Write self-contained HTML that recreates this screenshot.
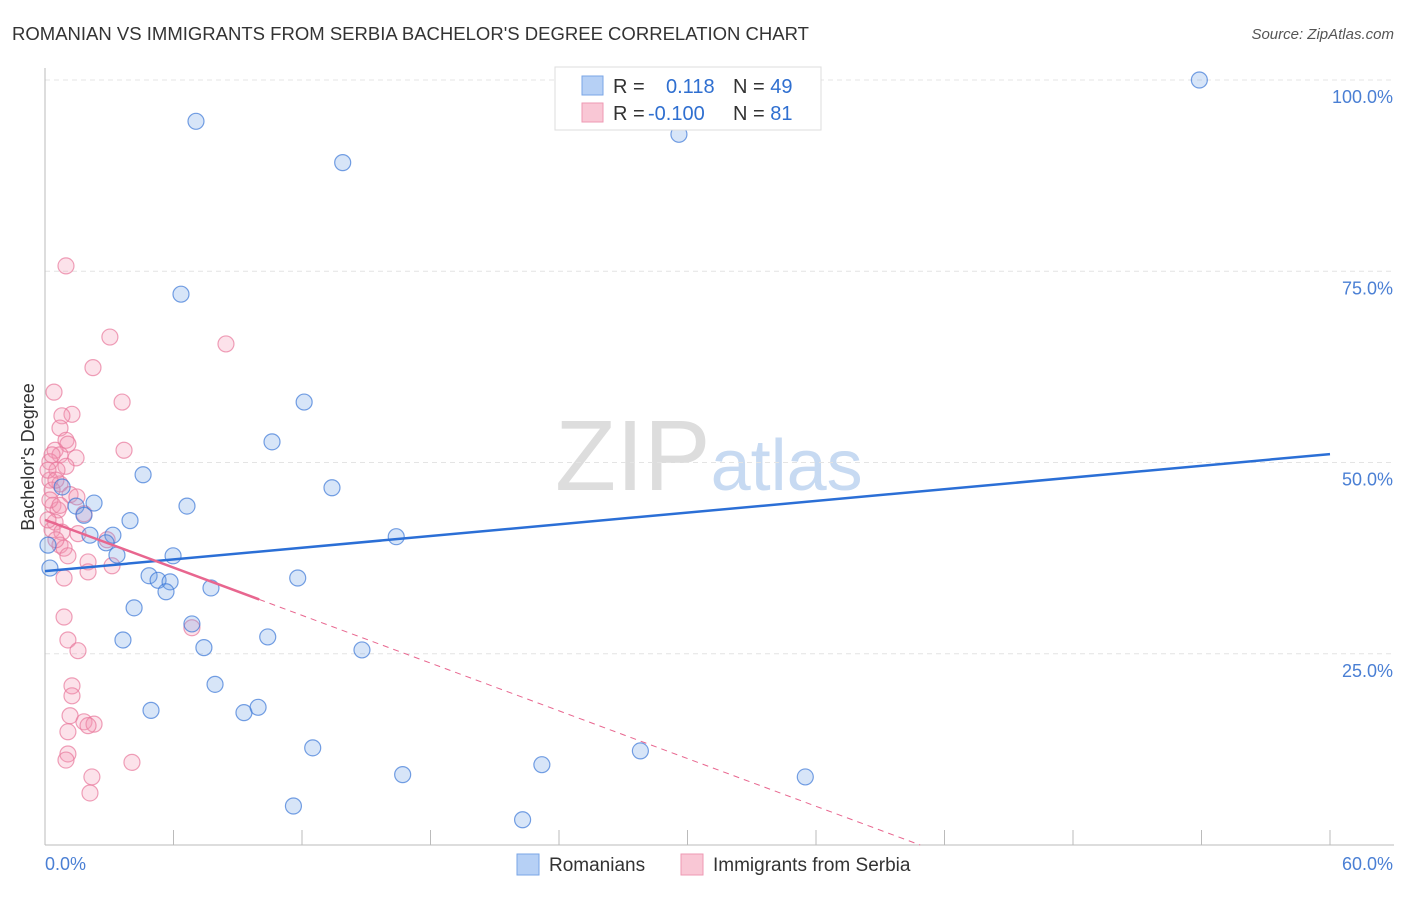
<!DOCTYPE html>
<html><head><meta charset="utf-8"><style>
body{margin:0;background:#fff;font-family:"Liberation Sans",sans-serif}
svg text{font-family:"Liberation Sans",sans-serif}
</style></head><body>
<svg id="chart" width="1406" height="892" xmlns="http://www.w3.org/2000/svg">
<text x="12" y="40" font-size="18" fill="#333" textLength="797" lengthAdjust="spacingAndGlyphs">ROMANIAN VS IMMIGRANTS FROM SERBIA BACHELOR'S DEGREE CORRELATION CHART</text>
<text x="1394" y="39" font-size="15" fill="#555" text-anchor="end" font-style="italic">Source: ZipAtlas.com</text>
<text x="555" y="490" font-size="100" fill="#ddd" font-family="Liberation Serif">ZIP<tspan fill="#c7daf2" font-family="Liberation Sans" font-size="72">atlas</tspan></text>
<g id="grid"></g><g id="marks"></g><g id="lines"></g>
<text transform="translate(34,457) rotate(-90)" font-size="18" fill="#333" text-anchor="middle">Bachelor's Degree</text>
<g>
<rect x="555" y="67" width="266" height="63" fill="#fff" stroke="#ddd"/>
<rect x="582" y="76" width="21" height="19" fill="#b6d0f5" stroke="#7aa6e6"/>
<rect x="582" y="103" width="21" height="19" fill="#f9c7d5" stroke="#ee99b3"/>
<text x="613" y="93" font-size="20" fill="#333">R = <tspan fill="#2f6fd0" x="666">0.118</tspan><tspan x="733" fill="#333">N = </tspan><tspan fill="#2f6fd0">49</tspan></text>
<text x="613" y="120" font-size="20" fill="#333">R = <tspan fill="#2f6fd0" x="648">-0.100</tspan><tspan x="733" fill="#333">N = </tspan><tspan fill="#2f6fd0"> 81</tspan></text>
</g>
<g>
<rect x="517" y="854" width="22" height="21" fill="#b6d0f5" stroke="#7aa6e6"/>
<text x="549" y="871" font-size="19" fill="#333">Romanians</text>
<rect x="681" y="854" width="22" height="21" fill="#f9c7d5" stroke="#ee99b3"/>
<text x="713" y="871" font-size="19" fill="#333">Immigrants from Serbia</text>
</g>
</svg>
<script>
const blueX=[53.9,7.05,13.9,29.6,6.35,12.1,10.6,4.58,13.4,2.29,6.63,1.45,1.82,3.97,3.17,2.10,2.85,16.4,3.36,5.98,4.86,5.28,5.84,5.65,11.8,7.75,4.16,6.86,3.64,10.4,7.42,14.8,7.94,4.95,9.29,9.95,12.5,27.8,16.7,23.2,35.5,11.6,22.3,0.23,0.8,0.14];
const blueY=[100,94.6,89.2,92.9,72.0,57.9,52.7,48.4,46.7,44.7,44.3,44.3,43.1,42.4,40.5,40.5,39.5,40.3,37.9,37.8,35.2,34.6,34.4,33.1,34.9,33.6,31.0,28.9,26.8,27.2,25.8,25.5,21.0,17.6,17.3,18.0,12.7,12.3,9.2,10.5,8.9,5.1,3.3,36.2,46.8,39.2];
const pinkX=[0.98,3.03,8.45,2.24,0.42,3.6,1.26,0.79,0.7,0.98,1.07,3.69,0.47,0.7,1.45,0.23,0.98,0.56,0.23,0.7,0.33,1.17,1.49,0.37,0.61,1.82,0.47,0.33,0.79,1.54,0.7,0.89,1.07,2.9,2.01,3.13,2.01,0.89,6.86,0.89,1.07,1.54,1.26,1.26,1.17,1.82,2.29,2.01,1.07,1.07,0.98,4.06,2.19,2.1,0.14,0.51,0.23,0.7,0.14,0.51,0.33];
const pinkY=[75.7,66.4,65.5,62.4,59.2,57.9,56.3,56.1,54.5,52.9,52.4,51.6,51.6,51.0,50.6,50.1,49.5,49.0,47.7,47.2,46.4,45.8,45.5,44.4,43.8,43.3,42.2,41.2,40.9,40.7,39.2,38.8,37.8,39.9,37.0,36.5,35.7,34.9,28.4,29.8,26.8,25.4,20.8,19.5,16.9,16.1,15.8,15.6,14.8,11.9,11.1,10.8,8.9,6.8,49.0,47.7,45.1,44.4,42.5,39.9,51.0];
const blueTrend=[35.8,0.255];      // intercept, slope
const pinkTrend=[42.5,-1.04,10.0];  // intercept, slope, solid-segment end x
const yTicks=[25,50,75,100];
const yTickLabels=["25.0%","50.0%","75.0%","100.0%"];
const xTicks=[0,6,12,18,24,30,36,42,48,54,60];
const NS="http://www.w3.org/2000/svg";
const sx=v=>45+v/60*1285, sy=v=>845-v/100*765;
function mk(t,a,p){const e=document.createElementNS(NS,t);for(const k in a)e.setAttribute(k,a[k]);p.appendChild(e);return e;}
const grid=document.getElementById('grid'),marks=document.getElementById('marks'),lines=document.getElementById('lines');
yTicks.forEach((t,i)=>{
 const l=mk('line',{x1:45,x2:1394,y1:sy(t),y2:sy(t),stroke:'#e4e4e4','stroke-dasharray':'5,4'},grid);
 
 
 const tx=mk('text',{x:1393,y:sy(t)+23,'font-size':18,fill:'#4a7fd4','text-anchor':'end'},grid);
 tx.textContent=yTickLabels[i];
 
 
});
const ax=mk('line',{x1:45,x2:45,y1:68,y2:845,stroke:'#bbb'},grid);


const bx=mk('line',{x1:45,x2:1394,y1:845,y2:845,stroke:'#bbb'},grid);


xTicks.forEach(t=>{const l=mk('line',{x1:sx(t),x2:sx(t),y1:830,y2:845,stroke:'#bbb'},grid);
 
 });
const xl0=mk('text',{x:45,y:870,'font-size':18,fill:'#4a7fd4'},grid);xl0.textContent='0.0%';


const xl1=mk('text',{x:1393,y:870,'font-size':18,fill:'#4a7fd4','text-anchor':'end'},grid);xl1.textContent='60.0%';


function pts(X,Y,fill,stroke,name){X.forEach((x,i)=>{const c=mk('circle',{cx:sx(x),cy:sy(Y[i]),r:8,fill:fill,stroke:stroke,'stroke-width':1.2},marks);
 
 });}
pts(pinkX,pinkY,'rgba(243,150,180,0.28)','rgba(232,120,155,0.7)','serbia-point');
pts(blueX,blueY,'rgba(110,160,230,0.28)','rgba(60,120,215,0.7)','romanian-point');
const [ba,bb]=blueTrend;
const bl=mk('line',{x1:sx(0),y1:sy(ba),x2:sx(60),y2:sy(ba+bb*60),stroke:'#2b6fd6','stroke-width':2.5},lines);


const [pa,pb,pend]=pinkTrend;
const pl=mk('line',{x1:sx(0),y1:sy(pa),x2:sx(pend),y2:sy(pa+pb*pend),stroke:'#e8668f','stroke-width':2.5},lines);


let xe=pb<0?Math.min(60,-pa/pb):60;
const pd=mk('line',{x1:sx(pend),y1:sy(pa+pb*pend),x2:sx(xe),y2:sy(pa+pb*xe),stroke:'#e8668f','stroke-width':1,'stroke-dasharray':'6,5'},lines);


</script>
</body></html>
